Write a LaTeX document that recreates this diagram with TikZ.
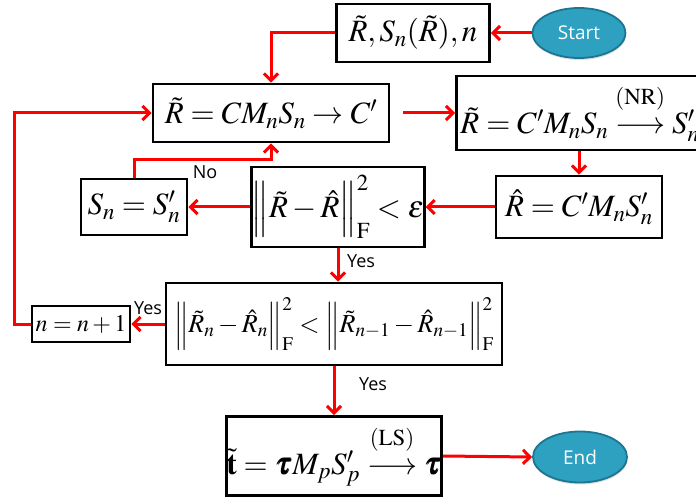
\documentclass[tikz,border=0pt]{standalone}
\usepackage{amsmath}
\usepackage{mathptmx}
\usepackage{bm}
\usepackage{graphicx}
\usepackage[no-math]{fontspec}
\newfontfamily\lblfont{Open Sans}
\usetikzlibrary{arrows.meta,shapes.geometric,shadows}
\definecolor{arrred}{RGB}{255,0,0}
\definecolor{ovfill}{RGB}{46,160,192}
\definecolor{ovline}{RGB}{28,118,146}
\newcommand{\toover}[1]{\overset{\raisebox{11pt}{$\scriptstyle(\mathrm{#1})$}}{\longrightarrow}}
\tikzset{
  box/.style={draw=black, line width=2.9pt, inner sep=0pt, align=center, fill=white},
  arr/.style={draw=arrred, line width=3pt, -{Straight Barb[length=7pt,width=14pt,line width=3pt]}},
  oval/.style={ellipse, fill=ovfill, draw=ovline, line width=1.8pt, text=white,
     font=\lblfont\fontsize{19}{22}\selectfont, inner sep=0pt,
     drop shadow={opacity=0.25, shadow xshift=0.5pt, shadow yshift=-2pt}},
  lbl/.style={font=\lblfont\fontsize{18}{21}\selectfont, inner sep=0pt},
  mth/.style={font=\fontsize{31}{36}\selectfont}
}
\begin{document}
\begin{tikzpicture}[x=1pt,y=-1pt]
\useasboundingbox (0,0) rectangle (696,497);
% nodes
\node[oval, minimum width=93pt, minimum height=50pt] (start) at (579,33) {Start};
\node[box, mth, minimum width=153pt, minimum height=58pt] (b1) at (413,33) {$\tilde{R},S_n(\tilde{R}),n$};
\node[box, mth, minimum width=236pt, minimum height=58pt] (b2) at (271,113) {$\tilde{R}=CM_nS_n\rightarrow C'$};
\node[box, mth, anchor=west, minimum width=290pt, minimum height=74pt, text width=282pt, align=left, inner xsep=4pt] (b3) at (455,113) {$\tilde{R}=C'M_nS_n\toover{NR}S'_n$};
\node[box, mth, minimum width=166pt, minimum height=62pt] (b4) at (579,207) {$\hat{R}=C'M_nS'_n$};
\node[box, mth, minimum width=170pt, minimum height=80pt] (b5) at (338,207) {$\Bigl\|\tilde{R}-\hat{R}\Bigr\|_{\mathrm{F}}^{2}<\varepsilon$};
\node[box, mth, minimum width=106pt, minimum height=56pt] (b6) at (134,207) {$S_n=S'_n$};
\node[box, font=\fontsize{26}{30}\selectfont, minimum width=336pt, minimum height=82pt] (b7) at (334,324) {$\Bigl\|\tilde{R}_n-\hat{R}_n\Bigr\|_{\mathrm{F}}^{2}<\Bigl\|\tilde{R}_{n-1}-\hat{R}_{n-1}\Bigr\|_{\mathrm{F}}^{2}$};
\node[box, font=\fontsize{24}{28}\selectfont, minimum width=98pt, minimum height=36pt] (b8) at (81,324) {$n=n+1$};
\node[box, mth, minimum width=215pt, minimum height=79pt] (b9) at (334,456) {$\tilde{\mathbf{t}}=\bm{\tau}M_pS'_p\toover{LS}\bm{\tau}$};
\node[oval, minimum width=94pt, minimum height=51pt] (end) at (580,457) {End};
% connectors
\draw[arr] (start.west) -- (b1.east);
\draw[arr] (b1.west) -| (b2.north);
\coordinate (c2) at ([xshift=13pt]b2.east);
\draw[arr] (c2) -- (b3.west);
\draw[arr] (b4.north |- b3.south) -- (b4.north);
\draw[arr] (b4.west) -- (b5.east);
\draw[arr] (b5.west) -- (b6.east);
\coordinate (nc) at (134,160);
\draw[arr] (b6.north) -- (b6.north |- nc) -| (b2.south);
\node[lbl] (lno) at (205,172) {No};
\draw[arr] (b5.south) -- (b5.south |- b7.north);
\node[lbl] (ly1) at (361,261) {Yes};
\draw[arr] (b7.west) -- (b8.east);
\node[lbl] (ly2) at (148,308) {Yes};
\coordinate (lc) at (14,324);
\draw[arr] (b8.west) -- (lc) |- (b2.west);
\draw[arr] (b7.south -| b9.north) -- (b9.north);
\node[lbl] (ly3) at (373,384) {Yes};
\draw[arr] (b9.east) -- (end.west);
\end{tikzpicture}
\end{document}
